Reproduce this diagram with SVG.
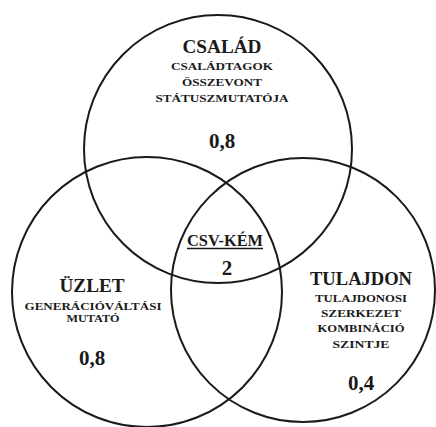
<svg xmlns="http://www.w3.org/2000/svg" width="436" height="427" viewBox="0 0 436 427">
<style>
.c{fill:none;stroke:#1a1a1a;stroke-width:2}
text{font-family:'Liberation Serif','Times New Roman','DejaVu Serif',serif;font-weight:bold;fill:#1a1a1a;text-anchor:middle}
.h{font-size:18px}
.s{font-size:11px}
.n{font-size:21px}
</style>
<rect width="436" height="427" fill="#fff"/>
<g id="connectors"></g>
<g id="csalad">
<circle class="c" cx="218" cy="149" r="134"/>
<text class="h" x="222" y="53" textLength="79" lengthAdjust="spacingAndGlyphs">CSALÁD</text>
<text class="s" x="222" y="70" textLength="102" lengthAdjust="spacingAndGlyphs">CSALÁDTAGOK</text>
<text class="s" x="222" y="86" textLength="80" lengthAdjust="spacingAndGlyphs">ÖSSZEVONT</text>
<text class="s" x="222" y="102" textLength="133" lengthAdjust="spacingAndGlyphs">STÁTUSZMUTATÓJA</text>
<text class="n" x="222" y="148">0,8</text>
</g>
<g id="uzlet">
<circle class="c" cx="147" cy="292" r="135"/>
<text class="h" x="92" y="292" textLength="65" lengthAdjust="spacingAndGlyphs">ÜZLET</text>
<text class="s" x="93" y="310" textLength="137" lengthAdjust="spacingAndGlyphs">GENERÁCIÓVÁLTÁSI</text>
<text class="s" x="93" y="322" textLength="53" lengthAdjust="spacingAndGlyphs">MUTATÓ</text>
<text class="n" x="92" y="365">0,8</text>
</g>
<g id="tulajdon">
<circle class="c" cx="303" cy="290" r="132"/>
<text class="h" x="361" y="285" textLength="102" lengthAdjust="spacingAndGlyphs">TULAJDON</text>
<text class="s" x="361" y="302" textLength="92" lengthAdjust="spacingAndGlyphs">TULAJDONOSI</text>
<text class="s" x="361" y="317" textLength="80" lengthAdjust="spacingAndGlyphs">SZERKEZET</text>
<text class="s" x="361" y="332" textLength="87" lengthAdjust="spacingAndGlyphs">KOMBINÁCIÓ</text>
<text class="s" x="361" y="348" textLength="57" lengthAdjust="spacingAndGlyphs">SZINTJE</text>
<text class="n" x="361" y="390">0,4</text>
</g>
<g id="csv-kem">
<text x="225" y="246" font-size="16" textLength="76" lengthAdjust="spacingAndGlyphs">CSV-KÉM</text>
<line x1="187" y1="248.5" x2="263" y2="248.5" stroke="#1a1a1a" stroke-width="1.3"/>
<text class="n" x="227" y="275">2</text>
</g>
</svg>
